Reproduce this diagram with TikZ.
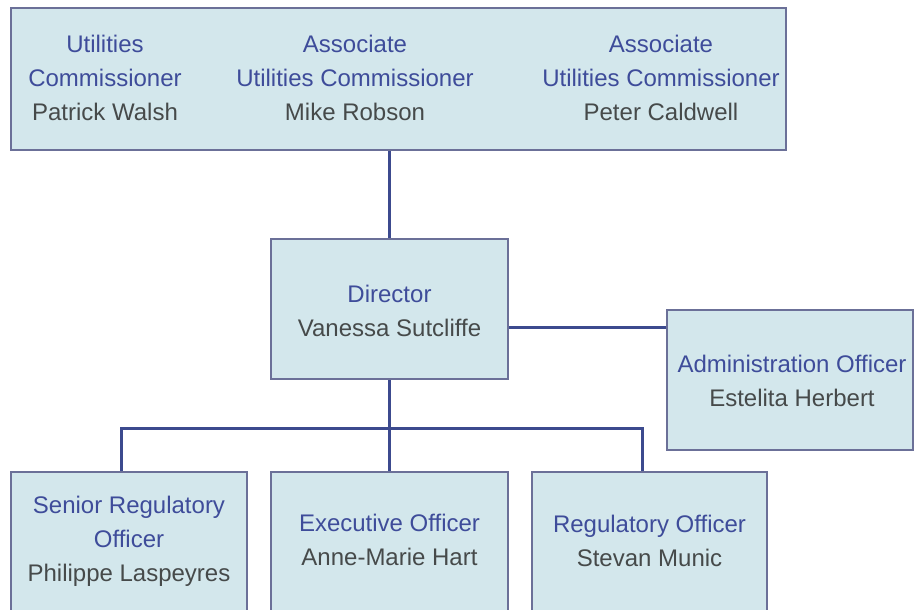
\documentclass[tikz,border=0pt]{standalone}
\usepackage{fontspec}
\setmainfont{Liberation Sans}
\usetikzlibrary{calc}
\definecolor{boxfill}{HTML}{D3E7EC}
\definecolor{boxline}{HTML}{6B7098}
\definecolor{connc}{HTML}{3C4A8E}
\definecolor{ttl}{HTML}{3E4C9A}
\definecolor{nmc}{HTML}{464A4A}
\newcommand{\ttlx}[1]{\textcolor{ttl}{#1}}
\newcommand{\nmx}[1]{\textcolor{nmc}{#1}}
\begin{document}
\begin{tikzpicture}[x=1pt,y=-1pt,
  box/.style={draw=boxline, fill=boxfill, line width=2.5pt, rectangle, inner sep=0pt},
  lbl/.style={align=center, font=\fontsize{24}{34}\selectfont, inner sep=0pt},
  conn/.style={draw=connc, line width=3pt}]
\useasboundingbox (0,0) rectangle (915,610);
\fill[white] (0,0) rectangle (915,610);
% coordinates for connector routing
\coordinate (hl) at (0,327);
\coordinate (bl) at (121,428);
\coordinate (br) at (642,428);
% boxes
\node[box, minimum width=775, minimum height=142] (top) at (398.5,79) {};
\node[box, minimum width=237, minimum height=140] (dir) at (389.5,309) {};
\node[box, minimum width=246, minimum height=140] (adm) at (790,380) {};
\node[box, minimum width=236, minimum height=150] (b1) at (129,547) {};
\node[box, minimum width=237, minimum height=150] (b2) at (389.5,547) {};
\node[box, minimum width=235, minimum height=150] (b3) at (649.5,547) {};
% connectors
\draw[conn] (dir.north |- top.south) -- (dir.north);
\draw[conn] (dir.east |- hl) -- (adm.west |- hl);
\draw[conn] (dir.south) -- (b2.north);
\draw[conn] (b1.north -| bl) -- (bl) -- (br) -- (b3.north -| br);
% texts
\node[lbl] (t1) at (105,78) {\ttlx{Utilities}\\\ttlx{Commissioner}\\\nmx{Patrick Walsh}};
\node[lbl] (t2) at (355,78) {\ttlx{Associate}\\\ttlx{Utilities Commissioner}\\\nmx{Mike Robson}};
\node[lbl] (t3) at (661,78) {\ttlx{Associate}\\\ttlx{Utilities Commissioner}\\\nmx{Peter Caldwell}};
\node[lbl] (td) at (389.5,311) {\ttlx{Director}\\\nmx{Vanessa Sutcliffe}};
\node[lbl] (ta) at (792,381) {\ttlx{Administration Officer}\\\nmx{Estelita Herbert}};
\node[lbl] (tb1) at (129,541) {\ttlx{Senior Regulatory}\\\ttlx{Officer}\\\nmx{Philippe Laspeyres}};
\node[lbl] (tb2) at (389.5,540) {\ttlx{Executive Officer}\\\nmx{Anne-Marie Hart}};
\node[lbl] (tb3) at (649.5,541) {\ttlx{Regulatory Officer}\\\nmx{Stevan Munic}};
\end{tikzpicture}
\end{document}
